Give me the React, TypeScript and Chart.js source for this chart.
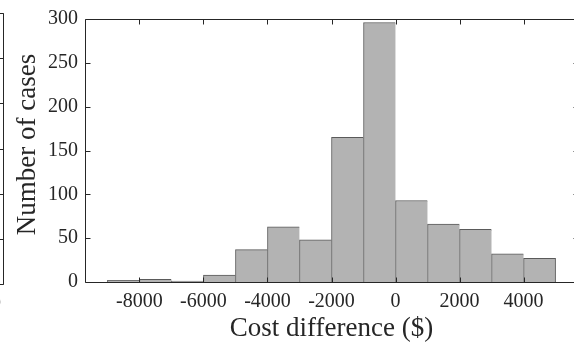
import React, { useEffect, useRef } from 'react';
import { Chart, registerables } from 'chart.js';

Chart.register(...registerables);

// ---- data ----
const binCenters = [-8500, -7500, -6500, -5500, -4500, -3500, -2500, -1500, -500, 500, 1500, 2500, 3500, 4500];
const caseCounts = [2, 3, 1, 8, 37, 63, 48, 165, 296, 93, 66, 60, 32, 27];
const xTickValues = [-8000, -6000, -4000, -2000, 0, 2000, 4000];
const yTickStep = 50;
const xLimits = [-9700, 5700];
const yLimits = [0, 300];
const xAxisTitle = 'Cost difference ($)';
const yAxisTitle = 'Number of cases';

// neighbouring panel, cut off at the left edge of the picture
const leftPanelXTicks = [0, 2000, 4000];
const leftPanelXLimits = [-1550, 4700];
const leftPanelYLimits = [0, 300];

const FONT_FAMILY = "'Liberation Serif', 'Times New Roman', serif";
const INK = '#262626';
const BAR_FILL = '#b3b3b3';
const BAR_EDGE = '#5a5a5a';

// MATLAB-like box with inward tick marks on all four sides
const boxPlugin = {
  id: 'matlabBox',
  afterDatasetsDraw(chart: any) {
    const { ctx, chartArea: a, scales } = chart;
    const len = 5;
    const px = (v: number) => Math.round(v) + 0.5;
    const L = px(a.left), R = px(a.right), T = px(a.top), B = px(a.bottom);
    ctx.save();
    ctx.strokeStyle = INK;
    ctx.lineWidth = 1;
    ctx.beginPath();
    ctx.rect(L, T, R - L, B - T);
    scales.x.ticks.forEach((t: any) => {
      const x = px(scales.x.getPixelForValue(t.value));
      ctx.moveTo(x, B); ctx.lineTo(x, B - len);
      ctx.moveTo(x, T); ctx.lineTo(x, T + len);
    });
    scales.y.ticks.forEach((t: any) => {
      const y = px(scales.y.getPixelForValue(t.value));
      ctx.moveTo(L, y); ctx.lineTo(L + len, y);
      ctx.moveTo(R, y); ctx.lineTo(R - len, y);
    });
    ctx.stroke();
    ctx.restore();
  },
};

// y-axis label, drawn a little above the axis centre as in the reference
const yTitlePlugin = {
  id: 'yTitle',
  afterDraw(chart: any, _args: any, opts: any) {
    if (!opts || !opts.text) return;
    const { ctx, chartArea: a } = chart;
    ctx.save();
    ctx.font = `${opts.size}px ${FONT_FAMILY}`;
    ctx.fillStyle = INK;
    ctx.textAlign = 'center';
    ctx.textBaseline = 'alphabetic';
    ctx.translate(opts.baselineX, (a.top + a.bottom) / 2 + opts.shift);
    ctx.rotate(-Math.PI / 2);
    ctx.fillText(opts.text, 0, 0);
    ctx.restore();
  },
};

export default function App() {
  const mainRef = useRef<HTMLCanvasElement>(null);
  const leftRef = useRef<HTMLCanvasElement>(null);

  useEffect(() => {
    const tickFont = { family: FONT_FAMILY, size: 20 };
    const titleFont = { family: FONT_FAMILY, size: 27 };
    const last = binCenters.length - 1;

    const main = new Chart(mainRef.current as HTMLCanvasElement, {
      type: 'bar',
      data: {
        datasets: [
          {
            data: binCenters.map((x, i) => ({ x, y: caseCounts[i] })),
            backgroundColor: BAR_FILL,
            borderColor: BAR_EDGE,
            borderWidth: (c: any) => ({ top: 1, left: 1, right: c.dataIndex === last ? 1 : 0, bottom: 0 }),
            borderSkipped: false,
            barPercentage: 1,
            categoryPercentage: 1,
          } as any,
        ],
      },
      options: {
        animation: false,
        responsive: false,
        layout: { padding: { left: 0, right: 2, top: 14, bottom: 0 } },
        plugins: {
          legend: { display: false },
          tooltip: { enabled: false },
          yTitle: { text: yAxisTitle, size: 27, baselineX: 35, shift: -6 },
        } as any,
        scales: {
          x: {
            type: 'linear',
            offset: false,
            min: xLimits[0],
            max: xLimits[1],
            grid: { display: false, drawTicks: false },
            border: { display: false },
            afterBuildTicks: (s: any) => {
              s.ticks = xTickValues.map((v) => ({ value: v }));
            },
            afterFit: (s: any) => {
              s.height = 65;
            },
            ticks: {
              padding: 8,
              font: tickFont,
              color: INK,
              maxRotation: 0,
              autoSkip: false,
              callback: (v: any) => String(v),
            },
            title: {
              display: true,
              text: xAxisTitle,
              font: titleFont,
              color: INK,
              padding: { top: 0, bottom: 2 },
            },
          },
          y: {
            type: 'linear',
            min: yLimits[0],
            max: yLimits[1],
            grid: { display: false, drawTicks: false },
            border: { display: false },
            afterFit: (s: any) => {
              s.width = 85;
            },
            ticks: {
              stepSize: yTickStep,
              padding: 7,
              font: tickFont,
              color: INK,
              callback: (v: any) => String(v),
            },
          },
        } as any,
      },
      plugins: [boxPlugin, yTitlePlugin],
    });

    const left = new Chart(leftRef.current as HTMLCanvasElement, {
      type: 'bar',
      data: { datasets: [] },
      options: {
        animation: false,
        responsive: false,
        layout: { padding: { left: 0, right: 1, top: 13, bottom: 0 } },
        plugins: { legend: { display: false }, tooltip: { enabled: false } },
        scales: {
          x: {
            type: 'linear',
            offset: false,
            min: leftPanelXLimits[0],
            max: leftPanelXLimits[1],
            grid: { display: false, drawTicks: false },
            border: { display: false },
            afterBuildTicks: (s: any) => {
              s.ticks = leftPanelXTicks.map((v) => ({ value: v }));
            },
            afterFit: (s: any) => {
              s.height = 63;
            },
            ticks: {
              padding: 8,
              font: tickFont,
              color: INK,
              maxRotation: 0,
              autoSkip: false,
              callback: (v: any) => String(v),
            },
          },
          y: {
            type: 'linear',
            min: leftPanelYLimits[0],
            max: leftPanelYLimits[1],
            grid: { display: false, drawTicks: false },
            border: { display: false },
            afterFit: (s: any) => {
              s.width = 0;
            },
            ticks: { stepSize: yTickStep, display: false },
          },
        } as any,
      },
      plugins: [boxPlugin],
    });

    return () => {
      main.destroy();
      left.destroy();
    };
  }, []);

  return (
    <div
      style={{
        position: 'fixed',
        left: 0,
        top: 0,
        width: 574,
        height: 347,
        overflow: 'hidden',
        background: '#ffffff',
      }}
    >
      <canvas
        ref={mainRef}
        width={580}
        height={347}
        style={{ position: 'absolute', left: 0, top: 0, width: 580, height: 347, display: 'block' }}
      />
      <canvas
        ref={leftRef}
        width={201}
        height={347}
        style={{ position: 'absolute', left: -192, top: 0, width: 201, height: 347, display: 'block' }}
      />
    </div>
  );
}
